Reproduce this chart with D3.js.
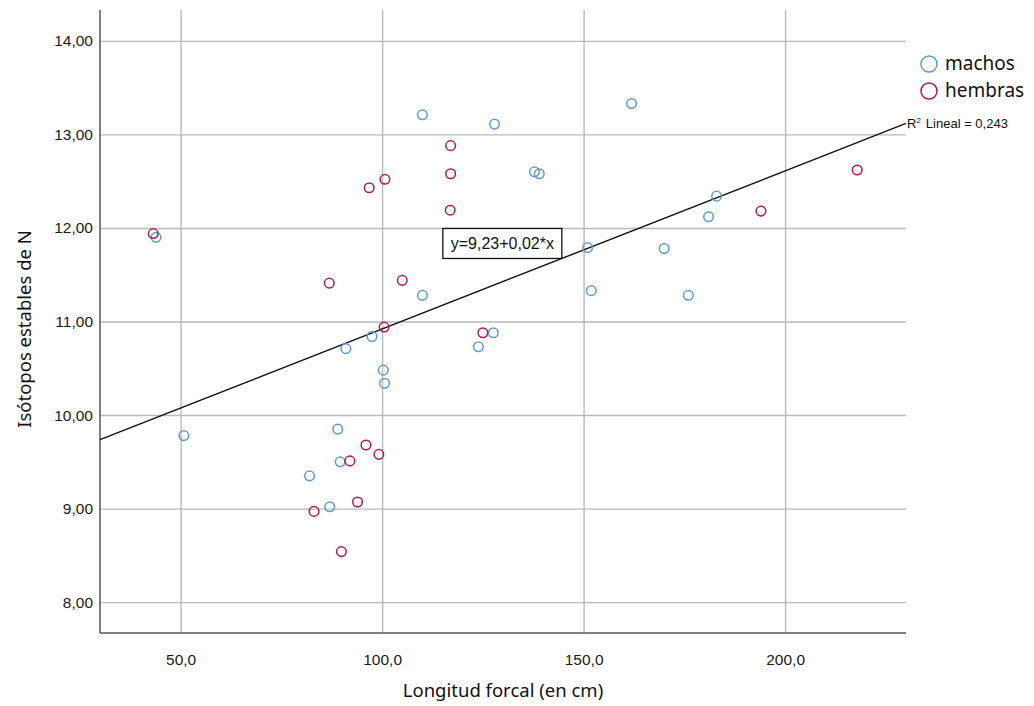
<!DOCTYPE html>
<html>
<head>
<meta charset="utf-8">
<script src="https://cdn.jsdelivr.net/npm/d3@7"></script>
<style>
  html, body { margin: 0; padding: 0; background: #ffffff; }
  svg { display: block; }
</style>
</head>
<body>
<svg id="chart" width="1034" height="706"></svg>
<script>
// ---- data ----
const machosX = [43.9, 50.8, 91.0, 97.5, 100.3, 100.6, 89.0, 89.6, 82.0, 87.0, 110.0, 127.9, 137.8, 139.0, 110.0, 127.6, 123.9, 151.0, 151.9, 170.0, 176.0, 161.9, 183.0, 181.0];
const machosY = [11.90, 9.78, 10.71, 10.84, 10.48, 10.34, 9.85, 9.50, 9.35, 9.02, 13.21, 13.11, 12.60, 12.58, 11.28, 10.88, 10.73, 11.79, 11.33, 11.78, 11.28, 13.33, 12.34, 12.12];
const hembrasX = [43.2, 86.9, 100.5, 96.0, 99.2, 92.0, 93.9, 83.1, 89.9, 117.0, 117.0, 116.9, 100.7, 96.8, 105.0, 125.0, 217.9, 194.0];
const hembrasY = [11.94, 11.41, 10.94, 9.68, 9.58, 9.51, 9.07, 8.97, 8.54, 12.88, 12.58, 12.19, 12.52, 12.43, 11.44, 10.88, 12.62, 12.18];
const xTicks = [50, 100, 150, 200];
const yTicks = [8, 9, 10, 11, 12, 13, 14];
const seriesNames = ["machos", "hembras"];
const fitIntercept = 9.23;
const fitSlope = 0.0169;
const fitLabel = "y=9,23+0,02*x";
const r2Value = "0,243";
const xTitle = "Longitud forcal (en cm)";
const yTitle = "Isótopos estables de N";

// ---- layout ----
const svg = d3.select("#chart");
const L = 100, R = 906, T = 10, B = 633;
const colors = { machos: "#5b9bd0", hembras: "#b3174c" };

const x = d3.scaleLinear().domain([30, 230]).range([L, R]);
const y = d3.scaleLinear().domain([7.67, 14.33]).range([B, T]);

const comma = (v, d) => v.toFixed(d).replace(".", ",");

// gridlines
svg.append("g")
  .attr("transform", `translate(0,${B})`)
  .call(d3.axisBottom(x).tickValues(xTicks).tickSize(-(B - T)).tickFormat(""))
  .call(g => g.select(".domain").remove())
  .call(g => g.selectAll("line").attr("stroke", "#b9b9b9").attr("stroke-width", 1.4));
svg.append("g")
  .attr("transform", `translate(${L},0)`)
  .call(d3.axisLeft(y).tickValues(yTicks).tickSize(-(R - L)).tickFormat(""))
  .call(g => g.select(".domain").remove())
  .call(g => g.selectAll("line").attr("stroke", "#b9b9b9").attr("stroke-width", 1.4));

// axes lines + labels
const xAxis = svg.append("g")
  .attr("transform", `translate(0,${B})`)
  .call(d3.axisBottom(x).tickValues(xTicks).tickSize(0).tickPadding(21).tickFormat(d => comma(d, 1)));
xAxis.select(".domain").attr("stroke", "#555").attr("stroke-width", 1.5).attr("d", `M${L},0H${R}`);
xAxis.selectAll("text").attr("font-family", "'Liberation Sans', Arial, sans-serif").attr("font-size", 15.5).attr("fill", "#1a1a1a");

const yAxis = svg.append("g")
  .attr("transform", `translate(${L},0)`)
  .call(d3.axisLeft(y).tickValues(yTicks).tickSize(0).tickPadding(7).tickFormat(d => comma(d, 2)));
yAxis.select(".domain").attr("stroke", "#555").attr("stroke-width", 1.5).attr("d", `M0,${T}V${B}`);
yAxis.selectAll("text").attr("font-family", "'Liberation Sans', Arial, sans-serif").attr("font-size", 15.5).attr("fill", "#1a1a1a");

// fit line
const x0 = x.domain()[0], x1 = x.domain()[1];
svg.append("line")
  .attr("x1", x(x0)).attr("y1", y(fitIntercept + fitSlope * x0))
  .attr("x2", x(x1)).attr("y2", y(fitIntercept + fitSlope * x1))
  .attr("stroke", "#111").attr("stroke-width", 1.4);

// points
function drawSeries(xs, ys, color) {
  svg.append("g").selectAll("circle")
    .data(xs.map((v, i) => [v, ys[i]]))
    .join("circle")
    .attr("cx", d => x(d[0])).attr("cy", d => y(d[1]))
    .attr("r", 4.8)
    .attr("fill", "none")
    .attr("stroke", color)
    .attr("stroke-width", 1.5);
}
drawSeries(machosX, machosY, colors.machos);
drawSeries(hembrasX, hembrasY, colors.hembras);

// equation box: bottom-right corner on the fit line
const boxX = 144.6;
const bx = x(boxX), by = y(fitIntercept + fitSlope * boxX);
const bw = 119, bh = 30;
svg.append("rect")
  .attr("x", bx - bw).attr("y", by - bh).attr("width", bw).attr("height", bh)
  .attr("fill", "#fff").attr("stroke", "#111").attr("stroke-width", 1.3);
svg.append("text")
  .attr("x", bx - bw / 2).attr("y", by - bh / 2 + 5.5)
  .attr("text-anchor", "middle")
  .attr("font-family", "'Liberation Sans', Arial, sans-serif").attr("font-size", 16).attr("fill", "#111")
  .text(fitLabel);

// R² label at end of line
const r2 = svg.append("text")
  .attr("x", R + 1).attr("y", y(fitIntercept + fitSlope * x1) + 5)
  .attr("font-family", "'Liberation Sans', Arial, sans-serif").attr("font-size", 13).attr("fill", "#111");
r2.append("tspan").text("R");
r2.append("tspan").attr("font-size", 8).attr("dy", -5).text("2");
r2.append("tspan").attr("dy", 5).attr("dx", 5).text("Lineal = " + r2Value);

// legend
const leg = svg.append("g");
seriesNames.forEach((name, i) => {
  const cy = 64 + i * 27;
  leg.append("circle").attr("cx", 929).attr("cy", cy).attr("r", 8)
    .attr("fill", "none").attr("stroke", colors[name]).attr("stroke-width", 1.5);
  leg.append("text").attr("x", 945).attr("y", cy + 6)
    .attr("font-family", "'Noto Sans', 'Open Sans', sans-serif").attr("font-size", 19).attr("fill", "#111")
    .text(name);
});

// axis titles
svg.append("text")
  .attr("x", (L + R) / 2).attr("y", 697)
  .attr("text-anchor", "middle")
  .attr("font-family", "'Noto Sans', 'Open Sans', sans-serif").attr("font-size", 18.5).attr("fill", "#111")
  .text(xTitle);
svg.append("text")
  .attr("transform", `translate(31,${329}) rotate(-90)`)
  .attr("text-anchor", "middle")
  .attr("font-family", "'Noto Sans', 'Open Sans', sans-serif").attr("font-size", 18.5).attr("fill", "#111")
  .text(yTitle);
</script>
</body>
</html>
